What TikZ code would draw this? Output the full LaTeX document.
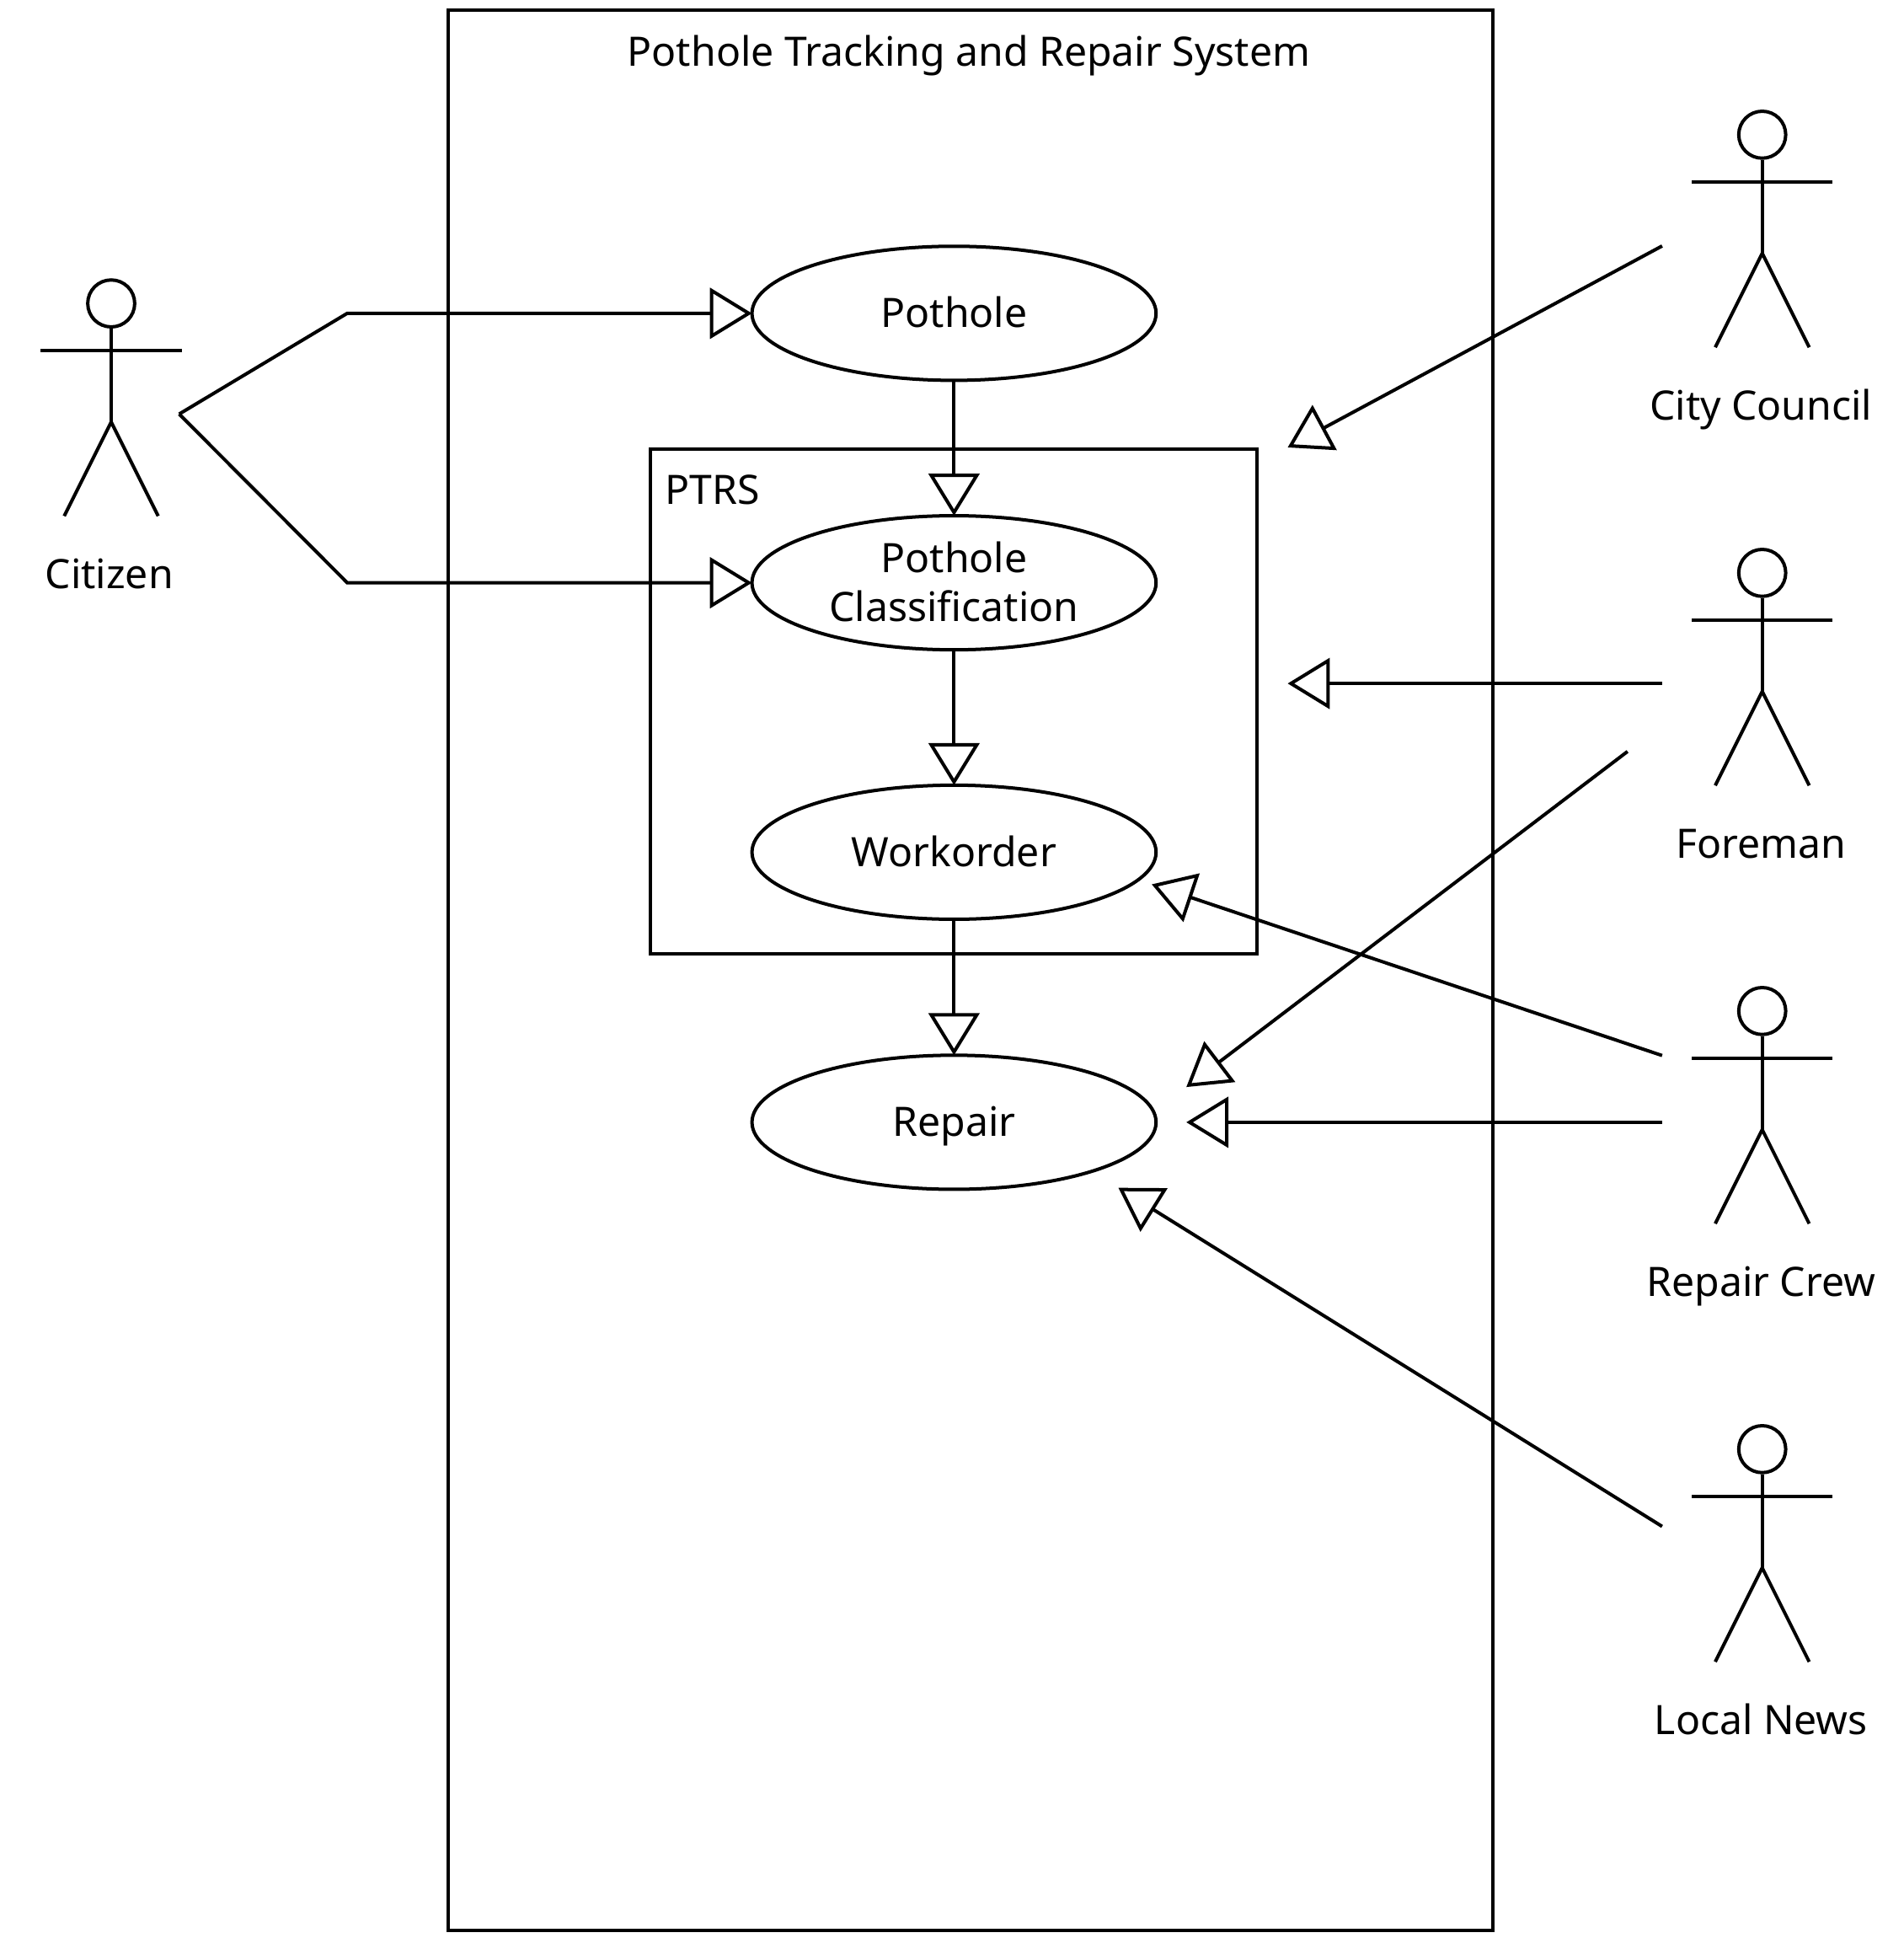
\documentclass[tikz,border=0pt]{standalone}
\usepackage{fontspec}
\setmainfont{Noto Sans}
\usetikzlibrary{positioning}
\usetikzlibrary{shapes.geometric,arrows.meta}
\tikzset{
  usecase/.style={draw,ellipse,minimum width=327pt,minimum height=108.5pt,inner sep=0pt,outer sep=0pt,align=center,text depth=2pt},
  assoc/.style={-{Triangle[open,length=34pt,width=41pt]}},
  actorname/.style={inner sep=0pt},
  actor/.pic={
    \node[draw,circle,minimum size=38pt,inner sep=0pt] (-head) at (0,-38) {};
    \draw (-head) -- (0,58);
    \draw (-57,0) -- (57,0);
    \draw (-38,134) -- (0,58) -- (38,134);
  }
}
\begin{document}
\begin{tikzpicture}[x=1pt,y=-1pt,line width=2.73pt,font=\fontsize{32.8}{40}\selectfont]
\useasboundingbox (0,0) rectangle (1540.7,1568);
% boxes
\node[draw,minimum width=845.5pt,minimum height=1554pt,inner sep=0pt] (system) at (785.2,785) {};
\node[inner sep=0pt] (systemname) at (784,45) {Pothole Tracking and Repair System};
\node[draw,minimum width=491pt,minimum height=408pt,inner sep=0pt] (ptrs) at (771.5,567.5) {};
\node[inner sep=0pt,anchor=west] (ptrsname) at (537,396) {PTRS};
% use cases
\node[usecase] (pothole) at (772,253.5) {Pothole};
\node[usecase] (classification) [on grid,below=218pt of pothole] {Pothole\\Classification};
\node[usecase] (workorder) [on grid,below=218pt of classification] {Workorder};
\node[usecase] (repair) [on grid,below=218.5pt of workorder] {Repair};
% actors
\pic (citizen) at (90,283.5) {actor};
\pic (council) at (1426,147) {actor};
\pic (foreman) at (1426,501.5) {actor};
\pic (crew) at (1426,856) {actor};
\pic (news) at (1426,1210.5) {actor};
\node[actorname] (citizenname) at (88.5,464) {Citizen};
\node[actorname] (councilname) at (1425,331.5) {City Council};
\node[actorname] (foremanname) at (1425,683) {Foreman};
\node[actorname] (crewname) at (1425,1041) {Repair Crew};
\node[actorname] (newsname) at (1425,1391) {Local News};
% free ends
\coordinate (citizenout) at (145,335);
\coordinate (bendtop) at (281,253.5);
\coordinate (bendlow) at (281,471.5);
\coordinate (councilout) at (1345,199);
\coordinate (councilin) at (1042,362);
\coordinate (foremanout) at (1345,553);
\coordinate (foremanin) at (1042,553);
\coordinate (foremanlow) at (1317,608);
\coordinate (repairtop) at (960,879.5);
\coordinate (crewtop) at (1345,854);
\coordinate (workorderin) at (932,715.5);
\coordinate (crewout) at (1345,908);
\coordinate (repairin) at (960,908);
\coordinate (newsout) at (1345,1235);
\coordinate (repairlow) at (905,961);
% connectors
\draw[assoc] (citizenout) -- (bendtop) -- (pothole);
\draw[assoc] (citizenout) -- (bendlow) -- (classification);
\draw[assoc] (pothole) -- (classification);
\draw[assoc] (classification) -- (workorder);
\draw[assoc] (workorder) -- (repair);
\draw[assoc] (councilout) -- (councilin);
\draw[assoc] (foremanout) -- (foremanin);
\draw[assoc] (foremanlow) -- (repairtop);
\draw[assoc] (crewtop) -- (workorderin);
\draw[assoc] (crewout) -- (repairin);
\draw[assoc] (newsout) -- (repairlow);
\end{tikzpicture}
\end{document}
